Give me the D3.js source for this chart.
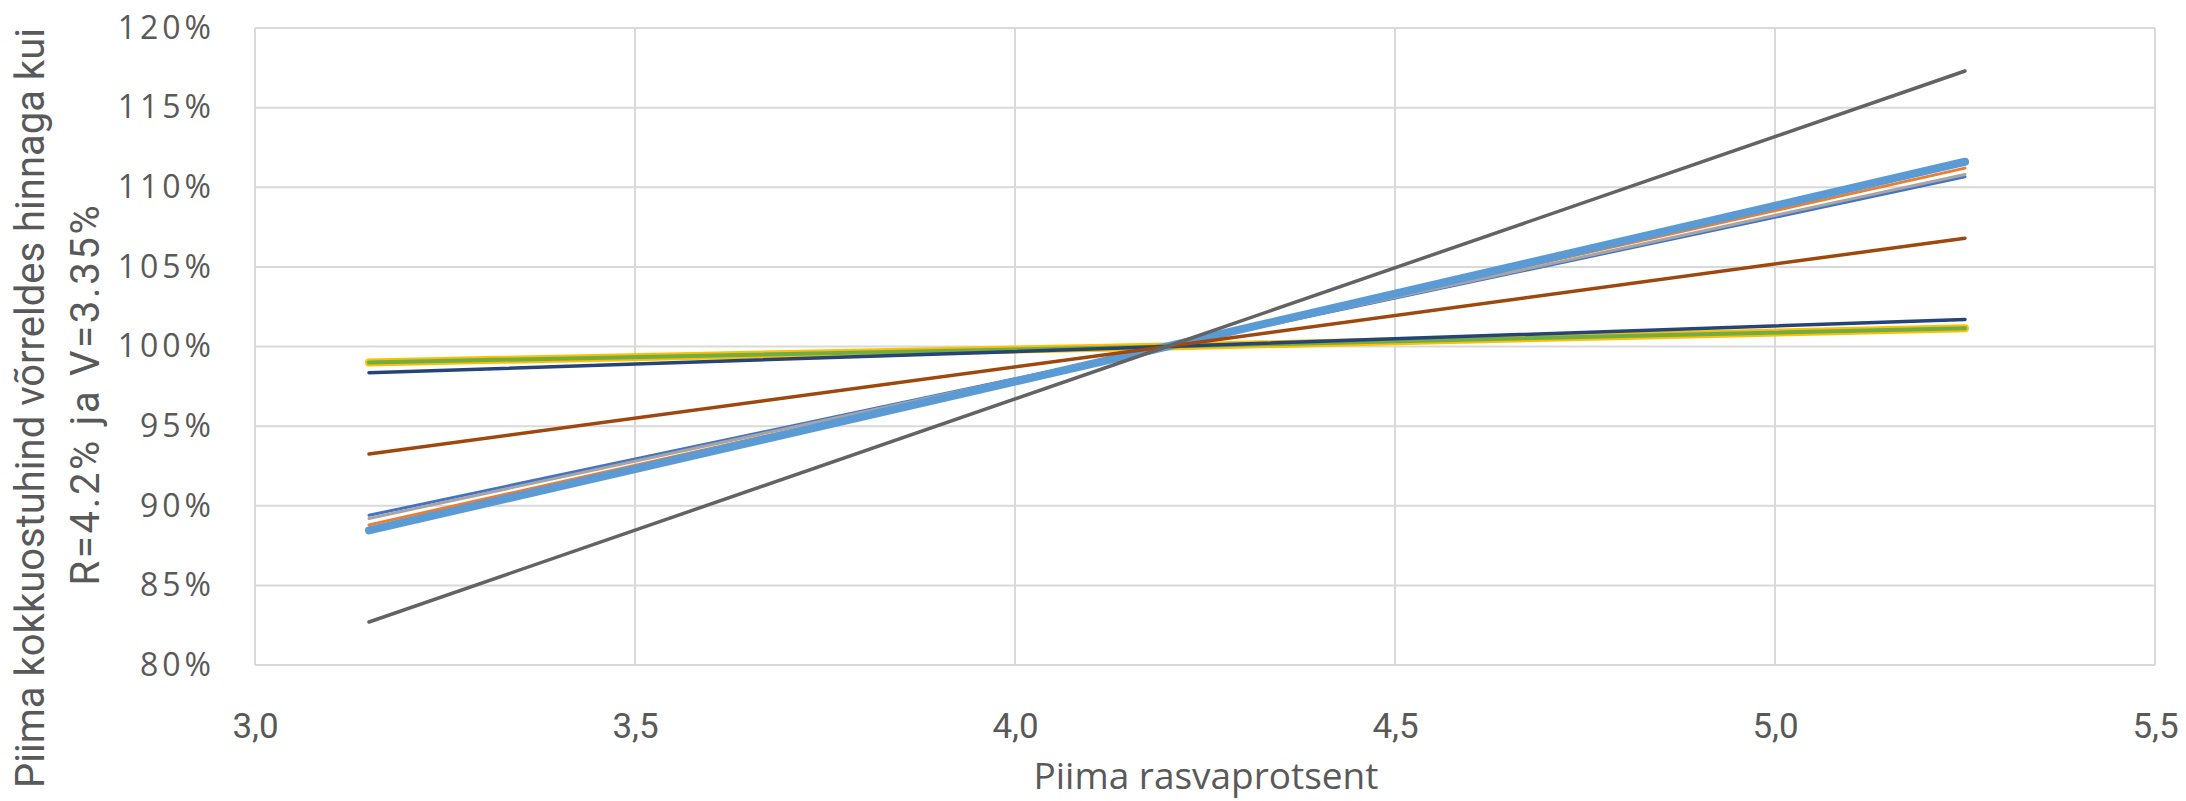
<!DOCTYPE html>
<html><head><meta charset="utf-8">
<script src="https://cdn.jsdelivr.net/npm/d3@7"></script>
<style>body{margin:0;background:#fff}svg{display:block}</style>
</head><body>
<svg id="c" width="2186" height="801"></svg>
<script>
const fatValues = [3.15, 4.2, 5.25];
const s1 = [89.4, 100, 110.65];
const s2 = [88.8, 100, 111.2];
const s3 = [89.2, 100, 110.8];
const s4 = [99.0, 100, 101.15];
const s5 = [88.45, 100, 111.6];
const s6 = [99.0, 100, 101.15];
const s7 = [98.35, 100, 101.7];
const s8 = [93.25, 100, 106.8];
const s9 = [82.7, 100, 117.3];
const xTicks = [3.0, 3.5, 4.0, 4.5, 5.0, 5.5];
const yTicks = [80, 85, 90, 95, 100, 105, 110, 115, 120];
const xTitle = "Piima rasvaprotsent";
const yTitle1 = "Piima kokkuostuhind võrreldes hinnaga kui";
const yTitle2 = "R=4.2% ja V=3.35%";
const colors = ["#4472C4","#ED7D31","#A5A5A5","#FFC000","#5B9BD5","#70AD47","#264478","#9E480E","#636363"];
const widths = [3, 3, 3, 8, 8, 4, 3.5, 3.5, 3.5];
const allSeries = [s1,s2,s3,s4,s5,s6,s7,s8,s9];

const svg = d3.select("#c");
const x = d3.scaleLinear().domain([3.0, 5.5]).range([255, 2155]);
const y = d3.scaleLinear().domain([80, 120]).range([665, 28]);
const FONT = "'Open Sans', sans-serif";

function fit(sel, target) {
  const w = sel.node().getComputedTextLength();
  const fs = +sel.attr("font-size");
  sel.attr("font-size", fs * target / w);
}
function spread(sel, target) {
  const w = sel.node().getComputedTextLength();
  const n = sel.text().length;
  sel.attr("letter-spacing", ((target - w) / n) + "px");
}

// gridlines
svg.append("g").selectAll("line").data(yTicks).join("line")
  .attr("x1", x(3.0)).attr("x2", x(5.5))
  .attr("y1", d => y(d)).attr("y2", d => y(d))
  .attr("stroke", "#d9d9d9").attr("stroke-width", 2);
svg.append("g").selectAll("line").data(xTicks).join("line")
  .attr("x1", d => x(d)).attr("x2", d => x(d))
  .attr("y1", y(80)).attr("y2", y(120))
  .attr("stroke", "#d9d9d9").attr("stroke-width", 2);

// y tick labels
const yAxis = d3.axisLeft(y).tickValues(yTicks).tickSize(0).tickPadding(40)
  .tickFormat(d => d + "%");
const gy = svg.append("g").attr("transform", `translate(${x(3.0)},0)`).call(yAxis);
gy.select(".domain").remove();
gy.selectAll("text").attr("font-family", FONT)
  .attr("font-size", 32).attr("letter-spacing", "4px").attr("fill", "#595959");

// x tick labels
const xAxis = d3.axisBottom(x).tickValues(xTicks).tickSize(0).tickPadding(48)
  .tickFormat(d => d3.format(".1f")(d).replace(".", ","));
const gx = svg.append("g").attr("transform", `translate(0,${y(80)})`).call(xAxis);
gx.select(".domain").remove();
gx.selectAll("text").attr("font-family", "Roboto, sans-serif")
  .attr("font-size", 35).attr("fill", "#595959");

// lines
const line = d3.line().x((d, i) => x(fatValues[i])).y(d => y(d));
svg.append("g").selectAll("path").data(allSeries).join("path")
  .attr("d", d => line(d))
  .attr("fill", "none")
  .attr("stroke", (d, i) => colors[i])
  .attr("stroke-width", (d, i) => widths[i])
  .attr("stroke-linecap", "round")
  .attr("stroke-linejoin", "round");

// axis titles
const xt = svg.append("text").attr("x", 1206).attr("y", 789)
  .attr("text-anchor", "middle")
  .attr("font-family", FONT)
  .attr("font-size", 32).attr("fill", "#595959")
  .text(xTitle);
fit(xt, 345);

const yt1 = svg.append("text")
  .attr("transform", "translate(44,408) rotate(-90)")
  .attr("text-anchor", "middle")
  .attr("font-family", "Roboto, sans-serif")
  .attr("font-size", 36).attr("fill", "#595959")
  .text(yTitle1);
fit(yt1, 760);
const yt2 = svg.append("text")
  .attr("transform", "translate(99,394) rotate(-90)")
  .attr("text-anchor", "middle")
  .attr("font-family", "Roboto, sans-serif")
  .attr("font-size", yt1.attr("font-size")).attr("fill", "#595959")
  .text(yTitle2);
spread(yt2, 383);
</script>
</body></html>
